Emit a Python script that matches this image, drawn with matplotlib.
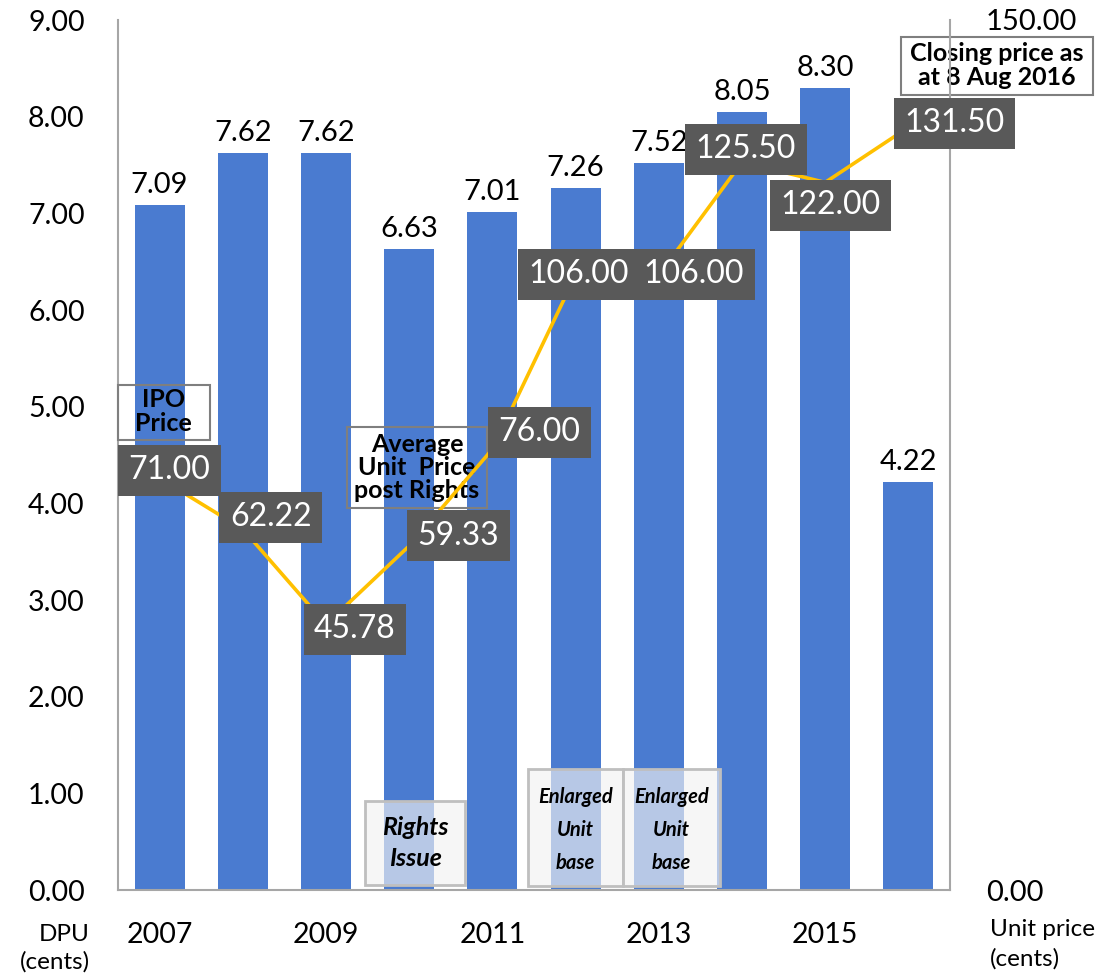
import matplotlib

matplotlib.use("Agg")
import matplotlib.pyplot as plt  # noqa: E402
import numpy as np  # noqa: E402
from matplotlib.patches import Rectangle  # noqa: E402

plt.rcParams["font.family"] = ["Lato", "DejaVu Sans"]

# --- data -----------------------------------------------------------------
years = [2007, 2008, 2009, 2010, 2011, 2012, 2013, 2014, 2015, 2016]
dpu = [7.09, 7.62, 7.62, 6.63, 7.01, 7.26, 7.52, 8.05, 8.30, 4.22]
unit_price = [71.00, 62.22, 45.78, 59.33, 76.00, 106.00, 106.00, 125.50, 122.00, 131.50]
dpu_ticks = list(range(0, 10))
price_ticks = [0, 150]

# where each price label box sits relative to its point (pixels, y up)
price_label_offsets = [(10, 8), (28, 12), (29, -5), (49, 10), (47, 17),
                       (3, 1), (35, 1), (4, 13), (5, -23), (46, 4)]

BLUE = "#4a7bd0"
GOLD = "#FFC000"
LABEL_BG = "#595959"
SPINE = "#a6a6a6"

fig = plt.figure(figsize=(11.09, 9.8), dpi=100)
ax = fig.add_axes([118 / 1109, 90 / 980, 832 / 1109, 870 / 980])
ax2 = ax.twinx()

x = np.arange(len(years))
bars = ax.bar(x, dpu, width=0.6, color=BLUE, zorder=2)
ax.bar_label(bars, labels=[f"{v:.2f}" for v in dpu], padding=5, fontsize=21)

ax.set_xlim(-0.5, len(years) - 0.5)
ax.set_ylim(0, 9)
ax.set_yticks(dpu_ticks)
ax.set_yticklabels([f"{v:.2f}" for v in dpu_ticks])
ax.set_xticks(x[::2])
ax.set_xticklabels([str(y) for y in years[::2]])
ax.tick_params(axis="y", length=0, pad=24, labelsize=20.5)
ax.tick_params(axis="x", length=0, pad=23, labelsize=20.5)
ax.spines[["top", "right"]].set_visible(False)
ax.spines[["left", "bottom"]].set_color(SPINE)
ax.spines[["left", "bottom"]].set_linewidth(1.5)

# unit price line on the right axis
ax2.plot(x, unit_price, color=GOLD, linewidth=2.6, zorder=3)
for xi, v, (dx, dy) in zip(x, unit_price, price_label_offsets):
    ax2.annotate(f"{v:.2f}", xy=(xi, v), xytext=(dx, dy), textcoords="offset pixels",
                 ha="center", va="center", color="white", fontsize=23, zorder=4,
                 bbox=dict(boxstyle="square,pad=0.33", fc=LABEL_BG, ec="none"))
ax2.set_ylim(0, 150)
ax2.set_yticks(price_ticks)
ax2.set_yticklabels([f"{v:.2f}" for v in price_ticks])
ax2.tick_params(axis="y", length=0, pad=26, labelsize=21)
ax2.spines[["top", "left", "bottom"]].set_visible(False)
ax2.spines["right"].set_color(SPINE)
ax2.spines["right"].set_linewidth(1.5)

# outlined callouts (no fill, bars show through)
callouts = [
    ((-0.5, 4.655), 1.106, 0.569, (0.045, 4.95), "IPO\nPrice"),
    ((2.252, 3.952), 1.683, 0.838, (3.094, 4.37), "Average\nUnit  Price\npost Rights"),
    ((8.91, 8.224), 2.31, 0.6, (10.065, 8.53), "Closing price as\nat 8 Aug 2016"),
]
for (x0, y0), w, h, (tx, ty), txt in callouts:
    ax.add_patch(Rectangle((x0, y0), w, h, fc="none", ec="#7f7f7f", lw=1.5,
                           zorder=5, clip_on=False))
    ax.text(tx, ty, txt, ha="center", va="center", fontsize=18, fontweight="bold",
            linespacing=1.02, zorder=6, clip_on=False)

# shaded event boxes along the base
events = [
    ((2.469, 0.052), 1.202, 0.869, (3.07, 0.486), "Rights\nIssue", 18, 1.45),
    ((4.428, 0.041), 1.142, 1.211, (4.999, 0.621), "Enlarged\nUnit\nbase", 14.5, 1.8),
    ((5.570, 0.041), 1.166, 1.211, (6.153, 0.621), "Enlarged\nUnit\nbase", 14.5, 1.8),
]
for (x0, y0), w, h, (tx, ty), txt, fs, ls in events:
    ax.add_patch(Rectangle((x0, y0), w, h, fc="#f2f2f2", alpha=0.65, ec="none", zorder=5))
    ax.add_patch(Rectangle((x0, y0), w, h, fc="none", ec="#bfbfbf", lw=2, zorder=5))
    ax.text(tx, ty, txt, ha="center", va="center", fontsize=fs, fontweight="bold",
            fontstyle="italic", linespacing=ls, zorder=6)

# axis titles under the tick labels
fig.text(90 / 1109, 1 - 948 / 980, "DPU\n(cents)", ha="right", va="center",
         multialignment="right", fontsize=17.5, linespacing=1.37)
fig.text(990 / 1109, 1 - 944 / 980, "Unit price\n(cents)", ha="left", va="center",
         multialignment="left", fontsize=17.5, linespacing=1.45)

fig.savefig("out.png", dpi=100)
plt.close(fig)
